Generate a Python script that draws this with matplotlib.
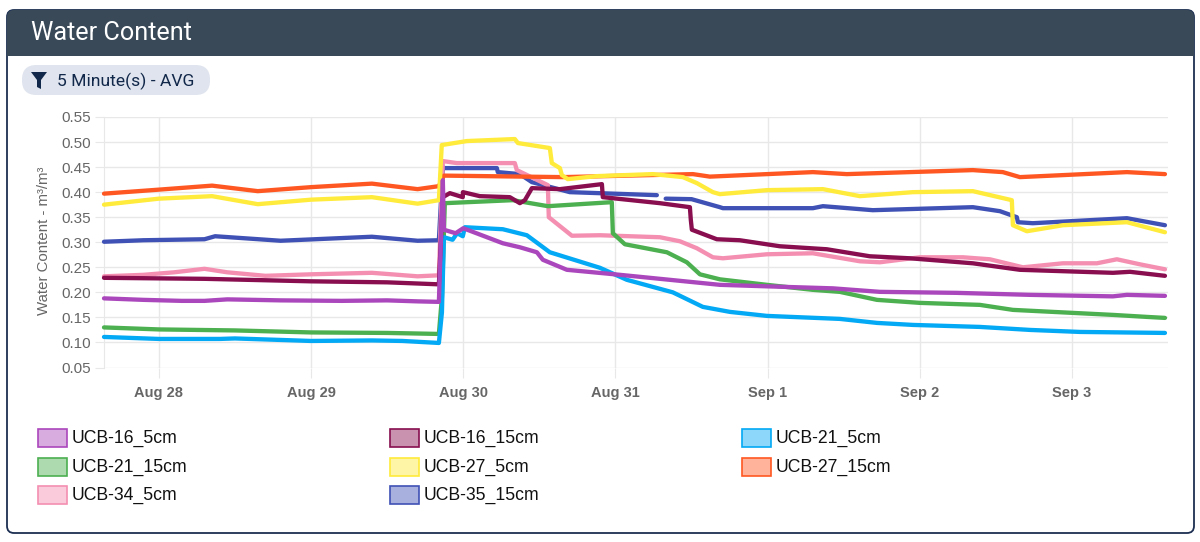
import matplotlib
matplotlib.use('Agg')
import matplotlib.pyplot as plt
from matplotlib.patches import FancyBboxPatch, Rectangle, Polygon
import numpy as np

plt.rcParams['font.family'] = ['Liberation Sans', 'DejaVu Sans']

# x values are days since Aug 28 00:00
tick_days = [0, 1, 2, 3, 4, 5, 6]
tick_names = ['Aug 28', 'Aug 29', 'Aug 30', 'Aug 31', 'Sep 1', 'Sep 2', 'Sep 3']
y_ticks = [0.05, 0.10, 0.15, 0.20, 0.25, 0.30, 0.35, 0.40, 0.45, 0.50, 0.55]

t_16_5 = [-0.36, -0.1, 0.15, 0.3, 0.45, 0.8, 1.2, 1.5, 1.7, 1.84, 1.866, 1.873, 1.95, 2.0, 2.26, 2.372, 2.484, 2.523, 2.681, 3.029, 3.686, 3.995, 4.428, 4.737, 5.24, 5.723, 6.268, 6.36, 6.61]
v_16_5 = [0.188, 0.185, 0.183, 0.183, 0.186, 0.184, 0.183, 0.184, 0.182, 0.181, 0.424, 0.325, 0.318, 0.328, 0.298, 0.29, 0.28, 0.265, 0.245, 0.235, 0.215, 0.212, 0.208, 0.201, 0.199, 0.195, 0.192, 0.195, 0.193]

t_16_15 = [-0.36, 0.3, 1.0, 1.5, 1.84, 1.866, 1.912, 1.997, 1.998, 2.109, 2.306, 2.372, 2.405, 2.451, 2.635, 2.911, 2.917, 3.292, 3.489, 3.495, 3.502, 3.666, 3.817, 4.08, 4.389, 4.671, 4.934, 5.348, 5.657, 6.268, 6.38, 6.61]
v_16_15 = [0.229, 0.227, 0.222, 0.220, 0.216, 0.39, 0.398, 0.39, 0.40, 0.392, 0.39, 0.378, 0.384, 0.408, 0.406, 0.416, 0.39, 0.378, 0.37, 0.345, 0.325, 0.306, 0.304, 0.292, 0.286, 0.272, 0.268, 0.258, 0.245, 0.239, 0.241, 0.233]

t_21_5 = [-0.36, 0, 0.4, 0.5, 1.0, 1.4, 1.6, 1.84, 1.86, 1.873, 1.93, 1.96, 1.997, 2.011, 2.26, 2.418, 2.569, 2.898, 3.075, 3.377, 3.574, 3.752, 3.995, 4.474, 4.718, 4.954, 5.394, 5.723, 6.051, 6.61]
v_21_5 = [0.111, 0.107, 0.107, 0.108, 0.103, 0.104, 0.103, 0.099, 0.16, 0.31, 0.305, 0.318, 0.312, 0.33, 0.326, 0.314, 0.28, 0.249, 0.225, 0.20, 0.171, 0.161, 0.153, 0.147, 0.139, 0.135, 0.131, 0.125, 0.121, 0.119]

t_21_15 = [-0.36, 0, 0.5, 1.0, 1.5, 1.84, 1.86, 1.879, 2.326, 2.556, 2.976, 2.983, 3.062, 3.338, 3.469, 3.555, 3.686, 3.995, 4.297, 4.474, 4.718, 5.0, 5.394, 5.611, 6.268, 6.491, 6.61]
v_21_15 = [0.130, 0.126, 0.124, 0.120, 0.119, 0.117, 0.19, 0.378, 0.384, 0.372, 0.38, 0.318, 0.296, 0.28, 0.26, 0.236, 0.226, 0.215, 0.205, 0.201, 0.185, 0.179, 0.175, 0.165, 0.155, 0.151, 0.149]

t_27_5 = [-0.36, 0, 0.35, 0.65, 1.0, 1.4, 1.7, 1.84, 1.859, 2.024, 2.339, 2.359, 2.569, 2.582, 2.635, 2.648, 2.687, 2.878, 3.246, 3.443, 3.535, 3.64, 3.686, 3.995, 4.363, 4.606, 4.954, 5.348, 5.604, 5.611, 5.703, 5.94, 6.36, 6.61]
v_27_5 = [0.375, 0.387, 0.392, 0.376, 0.385, 0.39, 0.377, 0.384, 0.494, 0.502, 0.506, 0.498, 0.488, 0.458, 0.448, 0.434, 0.426, 0.432, 0.436, 0.43, 0.418, 0.40, 0.396, 0.404, 0.406, 0.392, 0.40, 0.402, 0.384, 0.334, 0.322, 0.334, 0.34, 0.32]

t_27_15 = [-0.36, 0, 0.35, 0.65, 1.0, 1.4, 1.7, 1.84, 1.873, 2.654, 3.509, 3.62, 4.297, 4.52, 5.348, 5.545, 5.657, 6.36, 6.61]
v_27_15 = [0.397, 0.405, 0.413, 0.402, 0.41, 0.417, 0.406, 0.412, 0.433, 0.43, 0.436, 0.431, 0.44, 0.436, 0.444, 0.44, 0.43, 0.44, 0.436]

t_34_5 = [-0.36, -0.1, 0.1, 0.3, 0.45, 0.7, 1.0, 1.4, 1.7, 1.84, 1.866, 1.958, 2.339, 2.352, 2.556, 2.562, 2.714, 2.898, 3.292, 3.423, 3.535, 3.64, 3.706, 3.995, 4.297, 4.606, 4.737, 5.0, 5.283, 5.46, 5.677, 5.94, 6.163, 6.294, 6.445, 6.61]
v_34_5 = [0.232, 0.235, 0.24, 0.247, 0.24, 0.233, 0.236, 0.239, 0.232, 0.234, 0.462, 0.458, 0.458, 0.444, 0.414, 0.35, 0.313, 0.314, 0.31, 0.302, 0.288, 0.27, 0.268, 0.276, 0.278, 0.262, 0.26, 0.27, 0.27, 0.266, 0.25, 0.258, 0.258, 0.266, 0.256, 0.246]

t_35_15 = [-0.36, -0.1, 0.3, 0.37, 0.8, 1.4, 1.7, 1.84, 1.866, 1.879, 2.221, 2.227, 2.372, 2.451, 2.70, 3.272, 3.28, 3.33, 3.50, 3.686, 3.706, 4.297, 4.363, 4.691, 5.348, 5.526, 5.637, 5.644, 5.742, 6.36, 6.61]
v_35_15 = [0.301, 0.304, 0.306, 0.312, 0.303, 0.311, 0.303, 0.304, 0.45, 0.448, 0.448, 0.44, 0.436, 0.42, 0.40, 0.394, np.nan, 0.387, 0.386, 0.37, 0.368, 0.368, 0.372, 0.364, 0.37, 0.362, 0.35, 0.34, 0.338, 0.348, 0.334]

names = ['UCB-16_5cm', 'UCB-16_15cm', 'UCB-21_5cm', 'UCB-21_15cm',
         'UCB-27_5cm', 'UCB-27_15cm', 'UCB-34_5cm', 'UCB-35_15cm']
colors = ['#ab47bc', '#880e4f', '#03a9f4', '#4caf50',
          '#ffeb3b', '#ff5722', '#f48fb1', '#3f51b5']
times = [t_16_5, t_16_15, t_21_5, t_21_15, t_27_5, t_27_15, t_34_5, t_35_15]
values = [v_16_5, v_16_15, v_21_5, v_21_15, v_27_5, v_27_15, v_34_5, v_35_15]

fig = plt.figure(figsize=(12, 5.42), dpi=100)

# page furniture in pixel coordinates
bg = fig.add_axes([0, 0, 1, 1], zorder=0)
bg.set_xlim(0, 1200)
bg.set_ylim(542, 0)
bg.axis('off')

bg.add_patch(FancyBboxPatch((7, 10), 1187, 523, boxstyle='round,pad=0,rounding_size=7',
                            fc='white', ec='#1c2f52', lw=1.3))
clip = FancyBboxPatch((7, 10), 1187, 523, boxstyle='round,pad=0,rounding_size=7',
                      transform=bg.transData, fc='none', ec='none')
bg.add_patch(clip)
head = Rectangle((7, 10), 1187, 46, fc='#394958', ec='none')
bg.add_patch(head)
head.set_clip_path(clip)
bg.text(31, 33, 'Water Content', color='white', fontsize=18.2, va='center',
        family=['Roboto', 'DejaVu Sans'])

bg.add_patch(FancyBboxPatch((22, 65), 188, 30, boxstyle='round,pad=0,rounding_size=14.5',
                            fc='#dfe4ee', ec='none'))
bg.add_patch(Polygon([(31, 72), (47, 72), (41, 80), (41, 89), (37, 87), (37, 80)],
                     fc='#12284a', ec='none'))
bg.text(57, 81, '5 Minute(s) - AVG', color='#12284a', fontsize=12.6, va='center',
        family=['Roboto', 'DejaVu Sans'])

# legend, three columns
leg_x = [36, 388, 740]
leg_y = [438, 467, 495]
for i, (name, col) in enumerate(zip(names, colors)):
    x0 = leg_x[i % 3]
    y0 = leg_y[i // 3]
    bg.add_patch(Rectangle((x0 + 1.5, y0 - 9), 29, 18, fc=matplotlib.colors.to_rgba(col, 0.45),
                           ec=col, lw=1.2))
    bg.text(x0 + 36, y0, name, fontsize=12.7, color='#111111', va='center')

# chart
ax = fig.add_axes([104 / 1200, 1 - 367.5 / 542, (1168 - 104) / 1200, (367.5 - 117) / 542], zorder=1)
ax.patch.set_alpha(0)
for n in range(len(names)):
    # first dataset ends up on top
    ax.plot(times[n], values[n], color=colors[n], lw=3.1, zorder=10 - n,
            solid_joinstyle='round', solid_capstyle='round', clip_on=False)

ax.set_xlim(-0.36, 6.63)
ax.set_ylim(0.05, 0.55)
ax.set_xticks(tick_days)
ax.set_xticklabels(tick_names, fontweight='bold')
ax.set_yticks(y_ticks)
ax.set_yticklabels(['%.2f' % v for v in y_ticks])
ax.grid(True, color='#e8e8e8', lw=1.0)
ax.set_axisbelow(True)
ax.tick_params(axis='x', length=7.5, width=0.8, color='#e8e8e8', labelcolor='#666666', labelsize=10.5, pad=6)
ax.tick_params(axis='y', length=6.5, width=0.8, color='#e8e8e8', labelcolor='#666666', labelsize=11, pad=3)
for side in ['top', 'right', 'bottom']:
    ax.spines[side].set_visible(False)
ax.spines['left'].set_color('#e8e8e8')
bg.text(44, 241, 'Water Content - m³/m³', rotation=90, fontsize=10.8, color='#666666',
        va='center', ha='center')

plt.savefig('out.png', dpi=100)
